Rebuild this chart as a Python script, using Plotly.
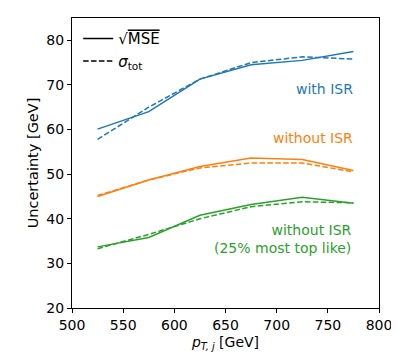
import plotly.graph_objects as go

# transverse momentum bin centres [GeV]
pt_bins = [525, 575, 625, 675, 725, 775]

# uncertainties [GeV]
isr_mse = [60.1, 64.0, 71.3, 74.5, 75.5, 77.5]
isr_sigma = [57.8, 65.0, 71.3, 75.0, 76.3, 75.8]
noisr_mse = [45.0, 48.7, 51.7, 53.6, 53.3, 50.8]
noisr_sigma = [45.2, 48.7, 51.4, 52.5, 52.5, 50.5]
top_mse = [33.7, 35.8, 40.8, 43.2, 44.8, 43.5]
top_sigma = [33.3, 36.5, 40.0, 42.7, 43.8, 43.6]

blue = '#1f77b4'
orange = '#ff7f0e'
green = '#2ca02c'
dashed = '5.5px,2.4px'  # matplotlib-like dash pattern

fig = go.Figure()

series = [
    (isr_mse, isr_sigma, blue),
    (noisr_mse, noisr_sigma, orange),
    (top_mse, top_sigma, green),
]
for mse, sigma, col in series:
    fig.add_trace(go.Scatter(x=pt_bins, y=mse, mode='lines',
                             line=dict(color=col, width=1.5), showlegend=False))
    fig.add_trace(go.Scatter(x=pt_bins, y=sigma, mode='lines',
                             line=dict(color=col, width=1.5, dash=dashed), showlegend=False))

# black legend entries
fig.add_trace(go.Scatter(x=[None], y=[None], mode='lines',
                         line=dict(color='black', width=1.5),
                         name="√<span style='text-decoration:overline'>MSE</span>"))
fig.add_trace(go.Scatter(x=[None], y=[None], mode='lines',
                         line=dict(color='black', width=1.5, dash=dashed),
                         name='<i>σ</i><sub>tot</sub>'))

labels = [
    (777, 69, 'with ISR', blue),
    (777, 58, 'without ISR', orange),
    (776, 35.4, 'without ISR<br>(25% most top like)', green),
]
for x, y, txt, col in labels:
    fig.add_annotation(x=x, y=y, text=txt, showarrow=False, xanchor='right',
                       yanchor='middle', align='right',
                       font=dict(color=col, size=14))

axis_style = dict(showline=True, linecolor='black', linewidth=1, mirror=True,
                  ticks='outside', ticklen=4, tickcolor='black', showgrid=False,
                  zeroline=False, automargin=False,
                  tickfont=dict(size=14, color='black'))

# page body adds an 8px offset, so the figure is sized 8px smaller
fig.update_layout(
    width=391,
    height=355,
    margin=dict(l=64, r=20, t=10, b=55),
    plot_bgcolor='white',
    paper_bgcolor='white',
    font=dict(family='DejaVu Sans', color='black'),
    xaxis=dict(range=[500, 800], dtick=50,
               title=dict(text='<i>p</i><sub><i>T, j</i></sub> [GeV]',
                          font=dict(size=14), standoff=5),
               **axis_style),
    yaxis=dict(range=[20, 85], dtick=10,
               title=dict(text='Uncertainty [GeV]', font=dict(size=14.5), standoff=4),
               **axis_style),
    legend=dict(x=0.02, y=0.985, xanchor='left', yanchor='top',
                bgcolor='rgba(0,0,0,0)', font=dict(size=15), tracegroupgap=0),
)

fig.write_html("out.html")
